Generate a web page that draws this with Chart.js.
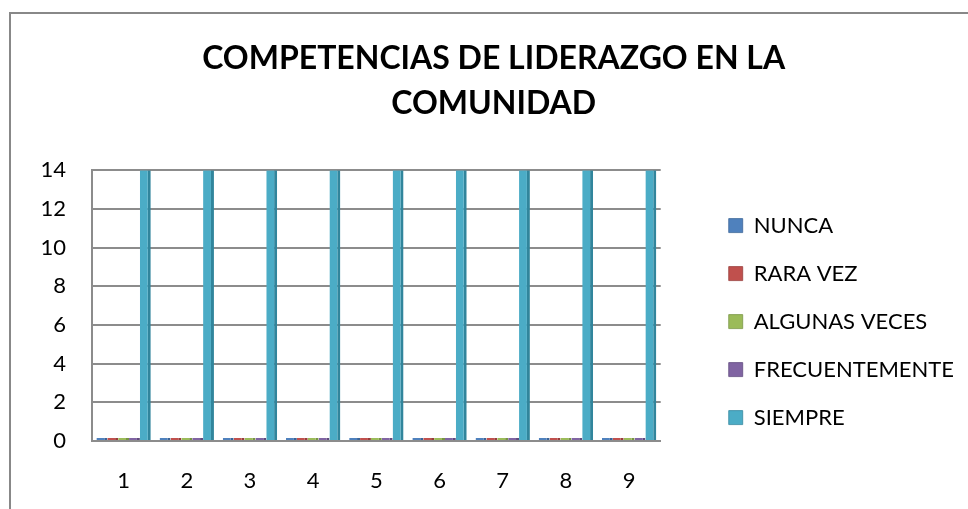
<!DOCTYPE html>
<html>
<head>
<meta charset="utf-8">
<script src="https://cdn.jsdelivr.net/npm/chart.js@4/dist/chart.umd.min.js"></script>
<style>
  html, body { margin: 0; padding: 0; background: #fff; }
  #wrap { position: relative; width: 968px; height: 509px; }
  #frame { position: absolute; left: 9px; top: 12px; right: 0; bottom: 0;
           border-left: 2px solid #888; border-top: 2px solid #888; }
  #chart-space { position: absolute; left: 0; top: 0; }
</style>
</head>
<body>
<div id="wrap">
  <div id="frame"></div>
  <canvas id="chart-space" width="968" height="509"></canvas>
</div>
<script>
const categories = ['1', '2', '3', '4', '5', '6', '7', '8', '9'];
const seriesNames = ['NUNCA', 'RARA VEZ', 'ALGUNAS VECES', 'FRECUENTEMENTE', 'SIEMPRE'];
const nunca = [0, 0, 0, 0, 0, 0, 0, 0, 0];
const raraVez = [0, 0, 0, 0, 0, 0, 0, 0, 0];
const algunasVeces = [0, 0, 0, 0, 0, 0, 0, 0, 0];
const frecuentemente = [0, 0, 0, 0, 0, 0, 0, 0, 0];
const siempre = [14, 14, 14, 14, 14, 14, 14, 14, 14];
const yTicks = [0, 2, 4, 6, 8, 10, 12, 14];

const colors = ['#4F81BD', '#C0504D', '#9BBB59', '#8064A2', '#4BACC6'];
const sideColors = ['#3a6396', '#963c3a', '#779443', '#5f4a7c', '#31859C'];
const values = [nunca, raraVez, algunasVeces, frecuentemente, siempre];

const FONT = 'Lato, Calibri, "Liberation Sans", sans-serif';

new Chart(document.getElementById('chart-space'), {
  type: 'bar',
  data: {
    labels: categories,
    datasets: seriesNames.map((name, i) => ({
      label: name,
      data: values[i],
      backgroundColor: colors[i],
      borderColor: sideColors[i],
      borderWidth: { right: 3, left: 0, top: 0, bottom: 0 },
      borderSkipped: false,
      minBarLength: 3,
      categoryPercentage: 0.86,
      barPercentage: 1.0
    }))
  },
  options: {
    responsive: false,
    animation: false,
    layout: { padding: { left: 0, right: 4, top: 0, bottom: 0 } },
    plugins: {
      tooltip: { enabled: false },
      title: {
        display: true,
        // leading spaces nudge the centred title a little to the right, as in the original
        text: ['   COMPETENCIAS DE LIDERAZGO EN LA', '   COMUNIDAD'],
        color: '#000',
        font: { family: FONT, size: 32, weight: 'bold', lineHeight: 1.38 },
        padding: { top: 37, bottom: 45 }
      },
      legend: {
        position: 'right',
        maxWidth: 320,
        title: { display: true, text: ' ', font: { size: 1 }, padding: { top: 0, bottom: 133 } },
        labels: {
          color: '#000',
          font: { family: FONT, size: 22 },
          boxWidth: 14,
          boxHeight: 14,
          padding: 26
        }
      }
    },
    scales: {
      x: {
        grid: { display: false, drawTicks: false },
        border: { display: true, color: '#8c8c8c', width: 2 },
        ticks: { color: '#000', font: { family: FONT, size: 22 }, padding: 27 },
        afterFit: scale => { scale.height = 68; }
      },
      y: {
        min: 0,
        max: 14,
        afterBuildTicks: axis => { axis.ticks = yTicks.map(v => ({ value: v })); },
        grid: { color: '#8c8c8c', lineWidth: 2, drawTicks: false },
        border: { display: true, color: '#8c8c8c', width: 2 },
        ticks: { color: '#000', font: { family: FONT, size: 22 }, padding: 26 },
        afterFit: scale => { scale.width = 92; }
      },
      gap: {
        position: 'right',
        display: true,
        grid: { display: false },
        border: { display: false },
        ticks: { display: false },
        afterFit: scale => { scale.width = 42; }
      }
    }
  }
});
</script>
</body>
</html>
